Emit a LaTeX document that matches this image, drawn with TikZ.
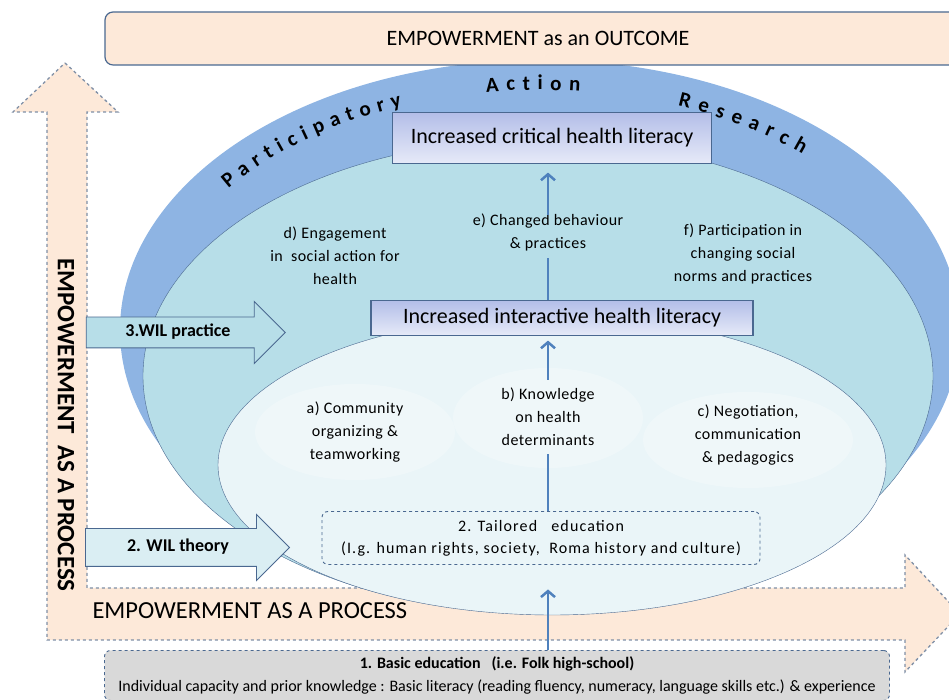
\documentclass[tikz,border=0pt]{standalone}
\usepackage{fontspec}
\setmainfont{Carlito}
\usepackage{tikz}
\usetikzlibrary{
    calc,
    arrows,
    arrows.meta,
    shapes.arrows,
    decorations.text
}
\definecolor{ringblue}{HTML}{8EB4E3}
\definecolor{midblue}{HTML}{B7DEE8}
\definecolor{paleblue}{HTML}{EAF5F8}
\definecolor{peach}{HTML}{FDE9D9}
\definecolor{edge}{HTML}{4A6890}
\definecolor{dashgray}{HTML}{7F8FA6}
\definecolor{flowblue}{HTML}{4F81BD}
\definecolor{boxtop}{HTML}{B3BEE8}
\definecolor{boxbot}{HTML}{E6EAF8}
\definecolor{wilpale}{HTML}{DAEEF3}
\definecolor{basicgray}{HTML}{D9D9D9}
\tikzset{
    hl/.style={draw=edge, line width=1.2pt, top color=boxtop, bottom color=boxbot, font=\fontsize{22}{26}\selectfont, inner sep=0pt},
    note/.style={align=center, font=\fontsize{16}{23}\selectfont\addfontfeature{LetterSpace=3}},
    dbox/.style={draw=edge, dashed, rounded corners=6pt, line width=0.9pt, align=center},
    flow/.style={draw=flowblue, line width=2.5pt, >={Straight Barb[length=6pt, width=14pt]}},
    wil/.style={single arrow, draw=edge, line width=0.9pt, single arrow tip angle=90, text height=12, text depth=4, font=\bfseries\fontsize{18}{20}\selectfont},
    arc text/.style={decorate, decoration={text along path, text align={fit to path}, text={|\bfseries\fontsize{21}{21}\selectfont|#1}}}
}

\begin{document}
\begin{tikzpicture}[x=1pt, y=1pt]
        \useasboundingbox (0,0) rectangle (949,700);

        % empowerment as a process
        \draw[dashgray, dashed, line width=1.3pt, fill=peach] (65,637) -- (118,588) -- (87,588) -- (87,112) -- (905,112) -- (905,145) -- (960,86) -- (905,28) -- (905,60) -- (47,60) -- (47,588) -- (13,588) -- cycle;
        \draw (66,275) node[rotate=-90, font=\bfseries\fontsize{25}{25}\selectfont](vproc){EMPOWERMENT\ \ AS A PROCESS};
        \draw (89,89) node[anchor=west, font=\fontsize{24.5}{25}\selectfont](hproc){EMPOWERMENT AS A PROCESS};

        % ellipses
        \fill[ringblue] (540,370) ellipse[x radius=420, y radius=270];
        \draw[edge, fill=midblue] (538,324) ellipse[x radius=395, y radius=237];
        \draw[edge, fill=paleblue] (552,235) ellipse[x radius=334, y radius=150];
        \fill[white, opacity=.25] (355,268) ellipse[x radius=100, y radius=48];
        \fill[white, opacity=.25] (548,282) ellipse[x radius=95, y radius=50];
        \fill[white, opacity=.25] (748,260) ellipse[x radius=105, y radius=48];

        \path[arc text=Participatory] (540,370) ++(144:385 and 240) arc[start angle=144, end angle=111, x radius=385, y radius=240];
        \path[arc text=Action] (540,370) ++(98:385 and 240) arc[start angle=98, end angle=84, x radius=385, y radius=240];
        \path[arc text=Research] (540,370) ++(69:385 and 240) arc[start angle=69, end angle=47, x radius=385, y radius=240];

        \draw (538,661.5) node[draw=edge, line width=1.2pt, fill=peach, rounded corners=8, minimum width=866, minimum height=53, font=\fontsize{22}{26}\selectfont](outc){EMPOWERMENT as an OUTCOME};

        % boxes
        \draw (552,562) node[hl, minimum width=319, minimum height=51](crit){Increased critical health literacy};
        \draw (562,382) node[hl, minimum width=382, minimum height=35](inter){Increased interactive health literacy};
        \draw (541,162) node[dbox, fill=paleblue, minimum width=438, minimum height=53, font=\fontsize{16}{22}\selectfont\addfontfeature{LetterSpace=7}](tail){2. Tailored\ \ \ education\\(I.g. human rights, society,\ \ Roma history and culture)};
        \draw (497,24.5) node[dbox, fill=basicgray, minimum width=785, minimum height=50, font=\fontsize{16}{23}\selectfont](basic){\textbf{1. Basic education\ \ \ (i.e. Folk high-school)}\\Individual capacity and prior knowledge : Basic literacy (reading fluency, numeracy, language skills etc.) \& experience};

        % labels
        \draw (335,444) node[note](d){d) Engagement\\in\ \ social action for\\health};
        \draw (548,468) node[note](e){e) Changed behaviour\\\& practices};
        \draw (743,446) node[note](f){f) Participation in\\changing social\\norms and practices};
        \draw (355,268) node[note](a){a) Community\\organizing \&\\teamworking};
        \draw (548,283) node[note](b){b) Knowledge\\on health\\determinants};
        \draw (748,265) node[note](c){c) Negotiation,\\communication\\\& pedagogics};

        % WIL
        \draw (178,367.5) node[wil, fill=midblue, minimum height=199, inner ysep=7, single arrow head extend=15.5](wilp){3.WIL practice};
        \draw (178,152.5) node[wil, fill=wilpale, minimum height=204, inner ysep=10.5, single arrow head extend=14](wilt){2. WIL theory};

        \draw[flow, ->, shorten >=24.5] (basic.north -| b) -- (tail.south -| b);
        \draw[flow, shorten >=5] (tail.north -| b) -- (b.south);
        \draw[flow, ->, shorten <=5, shorten >=4.5] (b.north) -- (inter.south -| b);
        \draw[flow, shorten >=3.5] (inter.north -| e) -- (e.south);
        \draw[flow, ->, shorten <=-5, shorten >=8.5] (e.north) -- (crit.south -| e);
    \end{tikzpicture}
\end{document}
